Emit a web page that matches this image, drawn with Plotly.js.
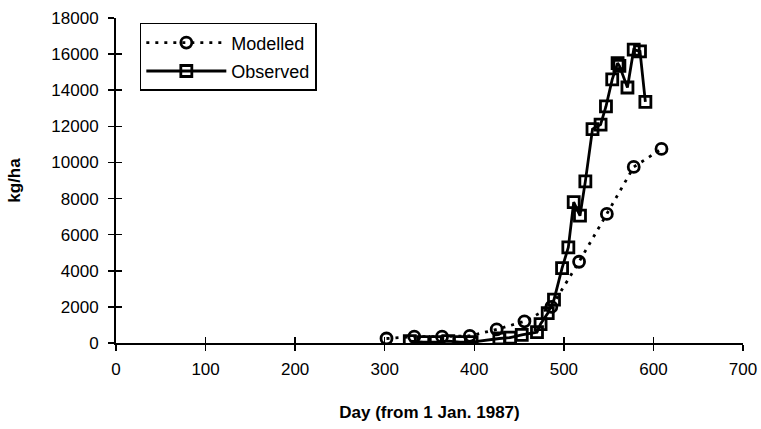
<!DOCTYPE html>
<html><head><meta charset="utf-8">
<script src="https://cdn.plot.ly/plotly-3.0.1.min.js"></script>
<style>html,body{margin:0;padding:0;background:#fff}#c{width:761px;height:429px}</style>
</head><body><div id="c"></div>
<script>
const modelledDays = [302, 333, 364, 395, 425, 456, 486, 517, 548, 578, 609];
const modelledVals = [250, 350, 350, 400, 750, 1200, 2000, 4500, 7150, 9750, 10750];
const observedDays = [328, 343, 357, 371, 384, 397, 428, 440, 453, 470, 474, 482, 489, 498, 505, 511, 518, 524, 532, 541, 547, 554, 560, 562, 571, 578, 585, 591];
const observedVals = [100, 50, 50, 100, 50, 50, 250, 300, 450, 600, 1050, 1650, 2400, 4150, 5300, 7800, 7050, 8950, 11850, 12100, 13100, 14600, 15500, 15350, 14150, 16250, 16150, 13350];
const xTicks = [0, 100, 200, 300, 400, 500, 600, 700];
const yTicks = [0, 2000, 4000, 6000, 8000, 10000, 12000, 14000, 16000, 18000];

const font = 'Liberation Sans, Arial, sans-serif';
const traces = [
  {x: modelledDays, y: modelledVals, name: 'Modelled', legendgroup: 'a', mode: 'lines+markers',
   line: {color: '#000', width: 2.8, dash: '3px,6px'},
   marker: {symbol: 'circle-open', size: 11, color: '#000', line: {width: 2.8, color: '#000'}}},
  {x: observedDays, y: observedVals, name: 'Observed', legendgroup: 'b', mode: 'lines+markers',
   line: {color: '#000', width: 2.8},
   marker: {symbol: 'square-open', size: 11, color: '#000', line: {width: 2.8, color: '#000'}}},
  {x: [0], y: [0], xaxis: 'x2', yaxis: 'y2', showlegend: false, mode: 'markers', marker: {opacity: 0}, hoverinfo: 'skip'}
];
const layout = {
  width: 761, height: 429,
  margin: {l: 116, r: 18, t: 18, b: 86},
  paper_bgcolor: '#fff', plot_bgcolor: '#fff',
  font: {family: font, color: '#000', size: 17},
  showlegend: true,
  legend: {x: 0.038, y: 0.985, xanchor: 'left', yanchor: 'top', bordercolor: '#000', borderwidth: 1.5,
           bgcolor: '#fff', font: {family: font, size: 18, color: '#000'}, itemwidth: 80,
           traceorder: 'grouped', tracegroupgap: 2},
  xaxis: {range: [0, 700], tickvals: xTicks, ticktext: xTicks.map(String), showgrid: false, zeroline: false,
          showline: true, linecolor: '#000', linewidth: 2, ticks: 'outside', ticklen: 6, tickwidth: 1.5, tickcolor: '#000',
          tickfont: {family: font, size: 17}, ticklabelstandoff: 4, fixedrange: true,
          title: {text: '<b>Day (from 1 Jan. 1987)</b>', font: {family: font, size: 17}, standoff: 28}},
  yaxis: {range: [0, 18000], tickvals: yTicks, ticktext: yTicks.map(String), showgrid: false, zeroline: false,
          showline: true, linecolor: '#000', linewidth: 2, ticks: 'outside', ticklen: 6, tickwidth: 1.5, tickcolor: '#000',
          tickfont: {family: font, size: 17}, ticklabelstandoff: 6, fixedrange: true,
          title: {text: '<b>kg/ha</b>', font: {family: font, size: 17}, standoff: 26}},
  xaxis2: {overlaying: 'x', anchor: 'y2', range: [0, 700], tickvals: xTicks, showticklabels: false, showgrid: false,
           zeroline: false, ticks: 'inside', ticklen: 6, tickwidth: 1.5, tickcolor: '#000', side: 'bottom'},
  yaxis2: {overlaying: 'y', anchor: 'x2', range: [0, 18000], tickvals: yTicks, showticklabels: false, showgrid: false,
           zeroline: false, ticks: 'inside', ticklen: 6, tickwidth: 1.5, tickcolor: '#000', side: 'left'}
};
Plotly.newPlot('c', traces, layout, {displayModeBar: false, staticPlot: true});
</script></body></html>
